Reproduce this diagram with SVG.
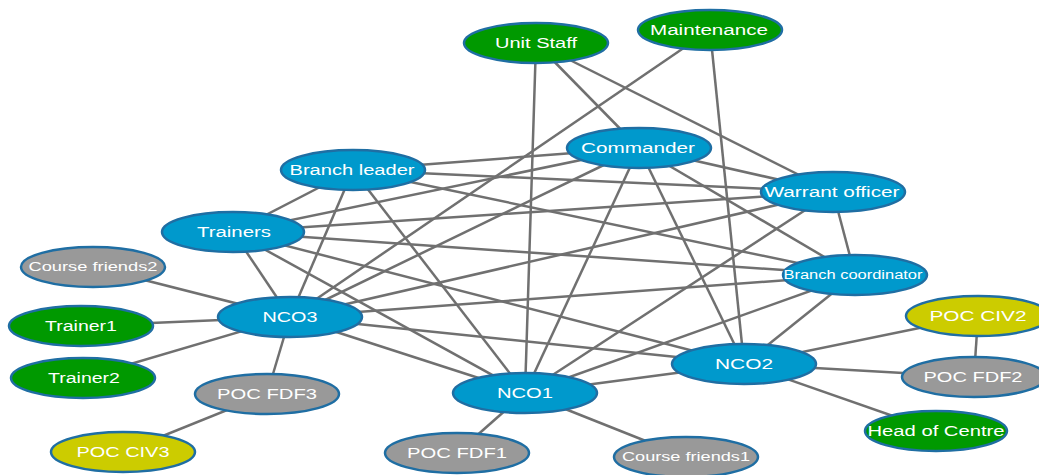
<svg xmlns="http://www.w3.org/2000/svg" width="1039" height="475" viewBox="0 0 1039 475">
<style>
.e line{stroke:#707070;stroke-width:2.5}
ellipse{stroke:#1f6ea3;stroke-width:2.5}
.b ellipse{fill:#0099cc}
.g ellipse{fill:#009900}
.y ellipse{fill:#cccc00}
.s ellipse{fill:#999999}
text{font-family:"Liberation Sans",Arial,sans-serif;font-size:14px;fill:#ffffff;text-anchor:middle}
</style>
<rect width="1039" height="475" fill="#ffffff"/>
<g class="e" id="connectors">
<line x1="93" y1="267" x2="290" y2="317"/>
<line x1="81" y1="326" x2="290" y2="317"/>
<line x1="83" y1="378" x2="290" y2="317"/>
<line x1="290" y1="317" x2="267" y2="394"/>
<line x1="267" y1="394" x2="123" y2="452"/>
<line x1="525" y1="393" x2="457" y2="453"/>
<line x1="525" y1="393" x2="686" y2="457"/>
<line x1="744" y1="364" x2="978" y2="316"/>
<line x1="744" y1="364" x2="974" y2="377"/>
<line x1="744" y1="364" x2="936" y2="431"/>
<line x1="978" y1="316" x2="974" y2="377"/>
<line x1="536" y1="43" x2="525" y2="393"/>
<line x1="536" y1="43" x2="639" y2="148"/>
<line x1="536" y1="43" x2="833" y2="192"/>
<line x1="710" y1="30" x2="290" y2="317"/>
<line x1="710" y1="30" x2="744" y2="364"/>
<line x1="639" y1="148" x2="353" y2="170"/>
<line x1="639" y1="148" x2="233" y2="232"/>
<line x1="639" y1="148" x2="833" y2="192"/>
<line x1="639" y1="148" x2="290" y2="317"/>
<line x1="639" y1="148" x2="525" y2="393"/>
<line x1="639" y1="148" x2="744" y2="364"/>
<line x1="639" y1="148" x2="855" y2="275"/>
<line x1="353" y1="170" x2="833" y2="192"/>
<line x1="353" y1="170" x2="855" y2="275"/>
<line x1="353" y1="170" x2="233" y2="232"/>
<line x1="353" y1="170" x2="290" y2="317"/>
<line x1="353" y1="170" x2="525" y2="393"/>
<line x1="833" y1="192" x2="233" y2="232"/>
<line x1="833" y1="192" x2="290" y2="317"/>
<line x1="833" y1="192" x2="525" y2="393"/>
<line x1="833" y1="192" x2="855" y2="275"/>
<line x1="233" y1="232" x2="855" y2="275"/>
<line x1="233" y1="232" x2="290" y2="317"/>
<line x1="233" y1="232" x2="525" y2="393"/>
<line x1="233" y1="232" x2="744" y2="364"/>
<line x1="855" y1="275" x2="290" y2="317"/>
<line x1="855" y1="275" x2="525" y2="393"/>
<line x1="855" y1="275" x2="744" y2="364"/>
<line x1="290" y1="317" x2="744" y2="364"/>
<line x1="290" y1="317" x2="525" y2="393"/>
<line x1="525" y1="393" x2="744" y2="364"/>
</g>
<g id="unit_staff" class="g"><ellipse cx="536" cy="43" rx="72" ry="20"/><text x="536" y="48" textLength="82" lengthAdjust="spacingAndGlyphs">Unit Staff</text></g>
<g id="maintenance" class="g"><ellipse cx="710" cy="30" rx="72" ry="20"/><text x="709" y="35" textLength="118" lengthAdjust="spacingAndGlyphs">Maintenance</text></g>
<g id="commander" class="b"><ellipse cx="639" cy="148" rx="72" ry="20"/><text x="638" y="153" textLength="114" lengthAdjust="spacingAndGlyphs">Commander</text></g>
<g id="warrant_officer" class="b"><ellipse cx="833" cy="192" rx="72" ry="20"/><text x="832" y="197" textLength="135" lengthAdjust="spacingAndGlyphs">Warrant officer</text></g>
<g id="branch_leader" class="b"><ellipse cx="353" cy="170" rx="72" ry="20"/><text x="352" y="175" textLength="125" lengthAdjust="spacingAndGlyphs">Branch leader</text></g>
<g id="trainers" class="b"><ellipse cx="233" cy="232" rx="71" ry="20"/><text x="234" y="237" textLength="74" lengthAdjust="spacingAndGlyphs">Trainers</text></g>
<g id="branch_coordinator" class="b"><ellipse cx="855" cy="275" rx="72" ry="20"/><text x="853" y="279" style="font-size:12px" textLength="139" lengthAdjust="spacingAndGlyphs">Branch coordinator</text></g>
<g id="nco3" class="b"><ellipse cx="290" cy="317" rx="72" ry="20"/><text x="290" y="322" textLength="55" lengthAdjust="spacingAndGlyphs">NCO3</text></g>
<g id="nco1" class="b"><ellipse cx="525" cy="393" rx="72" ry="20"/><text x="525" y="398" textLength="56" lengthAdjust="spacingAndGlyphs">NCO1</text></g>
<g id="nco2" class="b"><ellipse cx="744" cy="364" rx="72" ry="20"/><text x="744" y="369" textLength="58" lengthAdjust="spacingAndGlyphs">NCO2</text></g>
<g id="course_friends2" class="s"><ellipse cx="93" cy="267" rx="72" ry="20"/><text x="93" y="271" style="font-size:13px" textLength="129" lengthAdjust="spacingAndGlyphs">Course friends2</text></g>
<g id="trainer1" class="g"><ellipse cx="81" cy="326" rx="72" ry="20"/><text x="81" y="331" textLength="72" lengthAdjust="spacingAndGlyphs">Trainer1</text></g>
<g id="trainer2" class="g"><ellipse cx="83" cy="378" rx="72" ry="20"/><text x="84" y="383" textLength="72" lengthAdjust="spacingAndGlyphs">Trainer2</text></g>
<g id="poc_fdf3" class="s"><ellipse cx="267" cy="394" rx="72" ry="20"/><text x="267" y="399" textLength="100" lengthAdjust="spacingAndGlyphs">POC FDF3</text></g>
<g id="poc_civ3" class="y"><ellipse cx="123" cy="452" rx="72" ry="20"/><text x="123" y="457" textLength="93" lengthAdjust="spacingAndGlyphs">POC CIV3</text></g>
<g id="poc_fdf1" class="s"><ellipse cx="457" cy="453" rx="72" ry="20"/><text x="457" y="458" textLength="100" lengthAdjust="spacingAndGlyphs">POC FDF1</text></g>
<g id="course_friends1" class="s"><ellipse cx="686" cy="457" rx="72" ry="20"/><text x="686" y="461" style="font-size:13px" textLength="128" lengthAdjust="spacingAndGlyphs">Course friends1</text></g>
<g id="poc_civ2" class="y"><ellipse cx="978" cy="316" rx="72" ry="20"/><text x="978" y="321" textLength="97" lengthAdjust="spacingAndGlyphs">POC CIV2</text></g>
<g id="poc_fdf2" class="s"><ellipse cx="974" cy="377" rx="72" ry="20"/><text x="973" y="382" textLength="99" lengthAdjust="spacingAndGlyphs">POC FDF2</text></g>
<g id="head_of_centre" class="g"><ellipse cx="936" cy="431" rx="71" ry="20"/><text x="936" y="436" textLength="137" lengthAdjust="spacingAndGlyphs">Head of Centre</text></g>
</svg>
